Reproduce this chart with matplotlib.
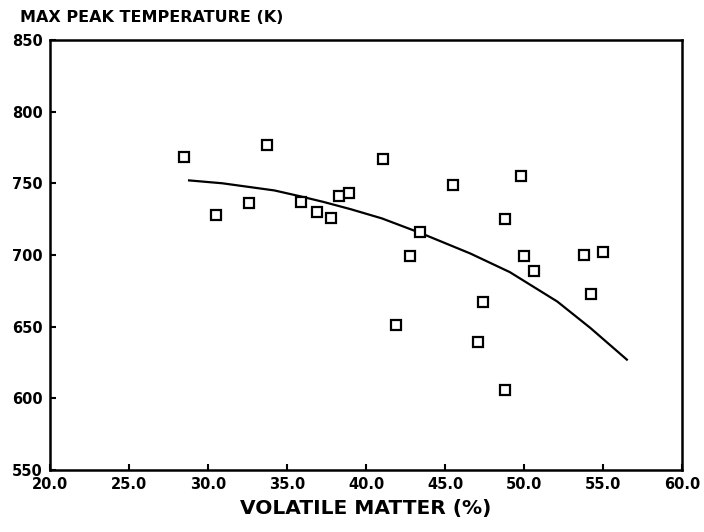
import matplotlib
matplotlib.use('Agg')
import matplotlib.pyplot as plt

# ─── data ───
volatile = [28.5, 30.5, 32.6, 33.7, 35.9, 36.9, 37.8, 38.3, 38.9, 41.1,
            41.9, 42.8, 43.4, 45.5, 47.1, 47.4, 48.8, 48.8, 49.8, 50.0,
            50.6, 53.8, 54.2, 55.0]
peak_temp = [768, 728, 736, 777, 737, 730, 726, 741, 743, 767,
             651, 699, 716, 749, 639, 667, 725, 606, 755, 699,
             689, 700, 673, 702]

# fitted curve, traced points
fit_x = [28.8, 30.9, 34.2, 35.8, 37.3, 39.0, 41.0, 43.4, 46.6, 49.1, 52.1, 54.2, 56.5]
fit_y = [752, 750, 745, 741, 737, 732, 725.5, 715.5, 701, 688, 667.5, 649, 627]

x_ticks = [20, 25, 30, 35, 40, 45, 50, 55, 60]
y_ticks = [550, 600, 650, 700, 750, 800, 850]

plt.rcParams['font.family'] = 'DejaVu Sans'
plt.rcParams['font.weight'] = 'bold'

fig = plt.figure(figsize=(7.04, 5.32), dpi=100)
ax = fig.add_axes([0.071, 0.1165, 0.898, 0.8085])

ax.plot(fit_x, fit_y, color='black', lw=1.6)
ax.plot(volatile, peak_temp, linestyle='none', marker='s', markersize=7.5,
        markerfacecolor='white', markeredgecolor='black', markeredgewidth=1.6)

ax.set_xlim(20, 60)
ax.set_ylim(550, 850)
ax.set_xticks(x_ticks)
ax.set_xticklabels([f'{v:.1f}' for v in x_ticks])
ax.set_yticks(y_ticks)
ax.tick_params(direction='in', length=4, width=1.5, labelsize=10.5, pad=5)
for lab in ax.get_xticklabels() + ax.get_yticklabels():
    lab.set_fontweight('bold')
for sp in ax.spines.values():
    sp.set_linewidth(1.8)

fig.text(20 / 704, 1 - 17 / 532, 'MAX PEAK TEMPERATURE (K)', fontsize=11.5,
         fontweight='bold', ha='left', va='center')
ax.set_xlabel('VOLATILE MATTER (%)', fontsize=14.5, fontweight='bold', labelpad=5)

fig.savefig('out.png', dpi=100, facecolor='white')
